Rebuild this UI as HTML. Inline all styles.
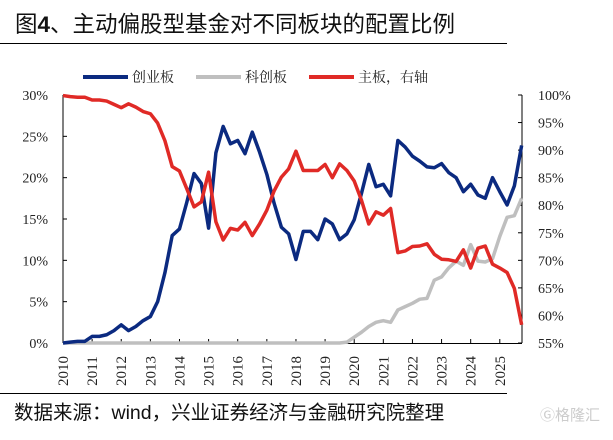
<!DOCTYPE html>
<html><head><meta charset="utf-8"><style>
body{margin:0;background:#fff;width:613px;height:435px;overflow:hidden;font-family:"Liberation Sans","Noto Sans CJK SC",sans-serif}
svg text{font-family:"Liberation Serif","Noto Serif CJK SC",serif}
</style></head><body>
<svg width="613" height="435">
<text x="15" y="32" font-size="22.5" fill="#111" style="font-family:'Liberation Sans','Noto Sans CJK SC',sans-serif">图<tspan font-weight="bold">4</tspan>、主动偏股型基金对不同板块的配置比例</text>
<line x1="0" y1="43.5" x2="507" y2="43.5" stroke="#000" stroke-width="1"/>
<g id="legend"></g>
<g id="axes"></g>
<g id="series"></g>
<line x1="0" y1="393.5" x2="507" y2="393.5" stroke="#000" stroke-width="1"/>
<text x="14" y="419" font-size="19.5" fill="#111" style="font-family:'Liberation Sans','Noto Sans CJK SC',sans-serif">数据来源：wind，兴业证券经济与金融研究院整理</text>
<text x="540" y="420" font-size="15" fill="#ccc" style="font-family:'Liberation Sans','Noto Sans CJK SC',sans-serif">Ⓖ格隆汇</text>
</svg>
<script>
const years=["2010","2011","2012","2013","2014","2015","2016","2017","2018","2019","2020","2021","2022","2023","2024","2025"];
const leftTicks=["0%","5%","10%","15%","20%","25%","30%"];
const rightTicks=["55%","60%","65%","70%","75%","80%","85%","90%","95%","100%"];
const chinext=[0,0.1,0.2,0.2,0.8,0.8,1.0,1.5,2.2,1.5,2.0,2.7,3.2,5.0,8.5,13.0,13.8,17,20.5,19.3,13.9,23,26.2,24.1,24.5,22.9,25.5,23.1,20.4,16.9,14,13.2,10.1,13.5,13.5,12.5,15.0,14.4,12.5,13.2,14.9,18.1,21.6,18.9,19.2,17.8,24.5,23.7,22.6,22,21.3,21.2,21.7,20.6,20,18.3,19.2,17.9,17.5,20,18.3,16.7,19,23.9];
const star=[0,0,0,0,0,0,0,0,0,0,0,0,0,0,0,0,0,0,0,0,0,0,0,0,0,0,0,0,0,0,0,0,0,0,0,0,0,0,0,0.1,0.7,1.3,2.0,2.5,2.7,2.5,4.0,4.4,4.8,5.3,5.4,7.6,8.0,9.1,9.9,9.4,11.9,9.9,9.8,10.2,12.9,15.2,15.4,17.5];
const mainBoard=[99.9,99.7,99.6,99.6,99.1,99.1,98.9,98.3,97.7,98.4,97.8,97.0,96.6,94.9,91.7,87.0,86.2,83,79.7,80.6,86,77,73.7,75.8,75.5,76.9,74.5,76.6,79.1,82.6,85.1,86.6,89.8,86.3,86.3,86.3,87.4,85,87.5,86.3,84.4,80.9,76.6,78.8,78.2,79.4,71.4,71.7,72.5,72.6,73,71.1,70.2,70.1,69.8,71.9,68.6,72.2,72.6,69.3,68.6,67.8,64.9,58.3];
const NS="http://www.w3.org/2000/svg";
const X0=63,X1=522,Y0=343,Y1=95;
const qx=i=>X0+i*7.28;
const yl=v=>Y0-(v/30)*(Y0-Y1);
const yr=v=>Y0-((v-55)/45)*(Y0-Y1);
function mk(tag,attrs,parent){const e=document.createElementNS(NS,tag);for(const k in attrs)e.setAttribute(k,attrs[k]);parent.appendChild(e);return e;}
const axes=document.getElementById('axes'),ser=document.getElementById('series'),leg=document.getElementById('legend');
let a=mk('line',{x1:X0,y1:Y1,x2:X0,y2:Y0,stroke:'#000'},axes);


a=mk('line',{x1:X1,y1:Y1,x2:X1,y2:Y0,stroke:'#000'},axes);


a=mk('line',{x1:X0,y1:Y0+0.5,x2:X1,y2:Y0+0.5,stroke:'#000'},axes);


leftTicks.forEach((t,i)=>{const y=yl(i*5);
 const tx=mk('text',{x:48,y:y+5,'font-size':14,'text-anchor':'end',fill:'#222'},axes);tx.textContent=t;
 
 
 mk('line',{x1:X0,y1:y,x2:X0+4,y2:y,stroke:'#000'},axes);});
rightTicks.forEach((t,i)=>{const y=yr(55+i*5);
 const tx=mk('text',{x:538,y:y+5,'font-size':14,fill:'#222'},axes);tx.textContent=t;
 
 
 mk('line',{x1:X1-4,y1:y,x2:X1,y2:y,stroke:'#000'},axes);});
years.forEach((t,i)=>{const x=qx(i*4);
 mk('line',{x1:x,y1:Y0-4,x2:x,y2:Y0,stroke:'#000'},axes);
 const tx=mk('text',{x:0,y:0,'font-size':15,'text-anchor':'middle',fill:'#222',transform:`translate(${x+5},${371}) rotate(-90)`},axes);tx.textContent=t;
 
 });
function line(data,fy,color,name){
 const p=mk('polyline',{points:data.map((v,i)=>qx(i)+','+fy(v)).join(' '),fill:'none',stroke:color,'stroke-width':3.5,'stroke-linejoin':'round'},ser);
 
 }
line(star,yl,'#bfbfbf','series-star-market');
line(chinext,yl,'#0b2a80','series-chinext');
line(mainBoard,yr,'#e02a26','series-main-board');
[["创业板",'#0b2a80',83],["科创板",'#bfbfbf',196],["主板，右轴",'#e02a26',309]].forEach(([t,c,x])=>{
 const l=mk('line',{x1:x,y1:77,x2:x+45,y2:77,stroke:c,'stroke-width':4},leg);
 
 
 const tx=mk('text',{x:x+49,y:82,'font-size':14,fill:'#222'},leg);tx.textContent=t;
 
 });
</script>
</body></html>
